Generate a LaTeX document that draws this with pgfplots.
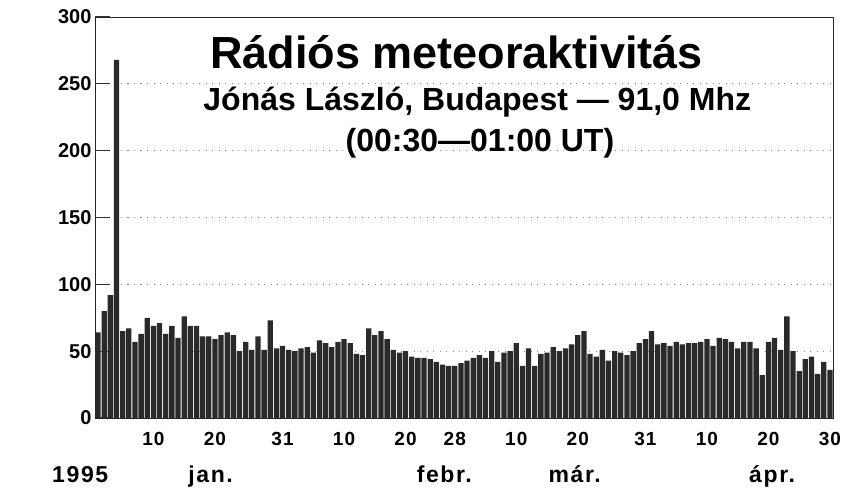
\documentclass[border=0pt]{standalone}
\usepackage{fontspec}
\setmainfont{Liberation Sans}
\newfontfamily\tickfont[LetterSpace=6]{Liberation Sans}
\newfontfamily\monthfont[LetterSpace=7]{Liberation Sans}
\usepackage{pgfplots}
\usepackage{pgfplotstable}
\pgfplotsset{compat=1.18}
\definecolor{barcol}{RGB}{42,42,42}
\pgfplotstableread{
day val
1 64
2 80
3 92
4 268
5 65
6 67
7 57
8 63
9 75
10 69
11 71
12 63
13 69
14 60
15 76
16 69
17 69
18 61
19 61
20 59
21 62
22 64
23 62
24 50
25 57
26 51
27 61
28 51
29 73
30 52
31 54
32 51
33 50
34 52
35 53
36 49
37 58
38 56
39 53
40 57
41 59
42 56
43 48
44 47
45 67
46 62
47 65
48 59
49 51
50 49
51 50
52 46
53 45
54 45
55 44
56 42
57 40
58 39
59 39
60 41
61 43
62 45
63 47
64 45
65 50
66 42
67 49
68 50
69 56
70 39
71 52
72 39
73 48
74 49
75 53
76 50
77 52
78 55
79 62
80 65
81 48
82 46
83 51
84 43
85 50
86 49
87 47
88 50
89 56
90 59
91 65
92 55
93 56
94 54
95 57
96 55
97 56
98 56
99 57
100 59
101 54
102 60
103 59
104 57
105 52
106 57
107 57
108 52
109 32
110 57
111 60
112 51
113 76
114 50
115 35
116 44
117 46
118 33
119 42
120 36
}\datatable
\begin{document}
\begin{tikzpicture}
\useasboundingbox (-95pt,-70pt) rectangle (749pt,418pt);
\begin{axis}[
  scale only axis, width=738pt, height=401pt,
  xmin=0.5, xmax=120.5, ymin=0, ymax=300,
  axis line style={black!85, line width=0.8pt},
  ytick={0,50,100,150,200,250,300},
  yticklabels={0,50,100,150,200,250,300},
  ytick pos=left, xtick pos=bottom, tick align=inside, major tick length=15pt,
  major tick style={draw=black!80, line width=1.1pt, solid},
  ymajorgrids,
  major grid style={black!45, line width=0.9pt, dash pattern=on 1.2pt off 5.3pt},
  yticklabel style={font=\fontsize{20}{20}\selectfont\bfseries},
  xtick={10,20,31,41,51,59,69,79,90,100,110,120},
  xticklabels={10,20,31,10,20,28,10,20,31,10,20,30},
  xticklabel style={font=\fontsize{19}{19}\selectfont\bfseries\tickfont, anchor=base, yshift=-27pt},
  clip=false,
]
\addplot[ybar, bar width=0.86, fill=barcol, draw=none] table[x=day,y=val]{\datatable};
\node[anchor=base, font=\fontsize{45}{45}\selectfont\bfseries] at (axis cs:59.3,261.8) {Rádiós meteoraktivitás};
\node[anchor=base, font=\fontsize{32}{32}\selectfont\bfseries] at (axis cs:62.66,230.4) {Jónás László, Budapest — 91,0 Mhz};
\node[anchor=base, font=\fontsize{32}{32}\selectfont\bfseries] at (axis cs:63.1,199.5) {(00:30—01:00 UT)};
\node[anchor=base, font=\fontsize{23}{23}\selectfont\bfseries\monthfont] at (axis cs:-1.9,-48.5) {1995};
\node[anchor=base, font=\fontsize{23}{23}\selectfont\bfseries\monthfont] at (axis cs:19.3,-48.5) {jan.};
\node[anchor=base, font=\fontsize{23}{23}\selectfont\bfseries\monthfont] at (axis cs:57.3,-48.5) {febr.};
\node[anchor=base, font=\fontsize{23}{23}\selectfont\bfseries\monthfont] at (axis cs:78.5,-48.5) {már.};
\node[anchor=base, font=\fontsize{23}{23}\selectfont\bfseries\monthfont] at (axis cs:110.6,-48.5) {ápr.};
\end{axis}
\end{tikzpicture}
\end{document}
